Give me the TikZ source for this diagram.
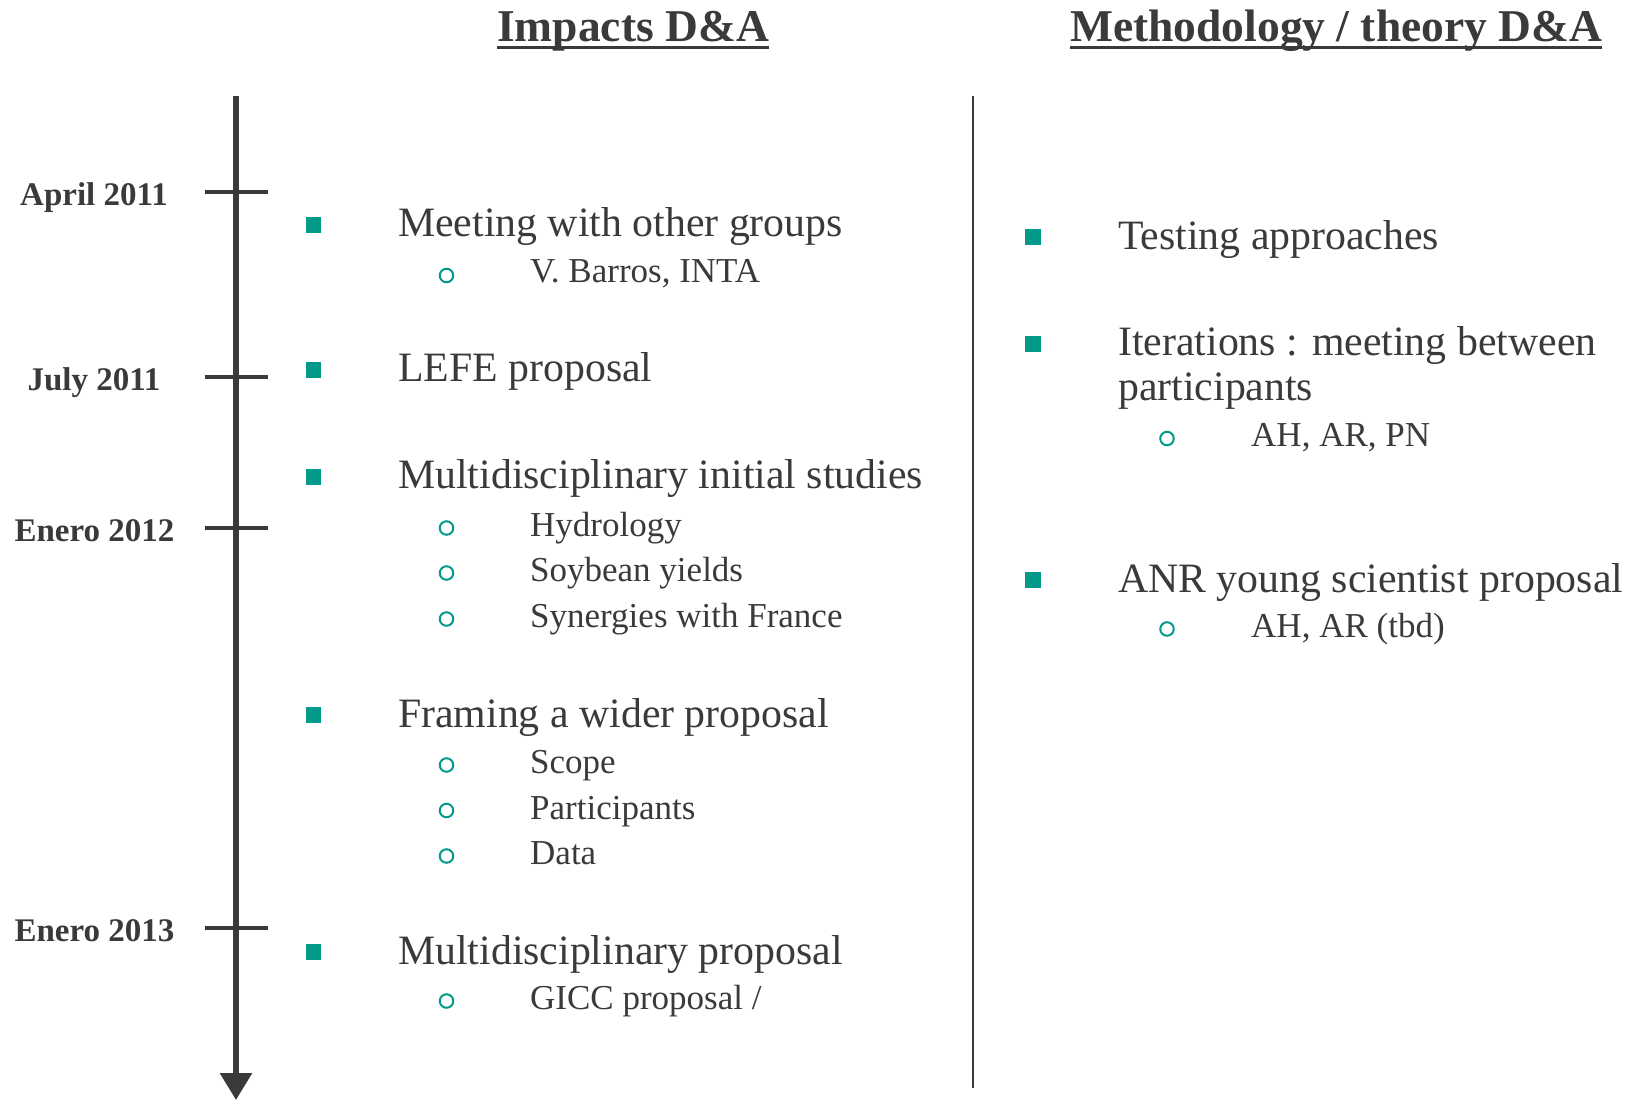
\documentclass[tikz,border=0pt]{standalone}
\usepackage{fontspec}
\setmainfont{Liberation Serif}
\usetikzlibrary{arrows.meta}
\definecolor{txt}{HTML}{3A3A3A}
\definecolor{tealb}{HTML}{00998A}
\begin{document}
\begin{tikzpicture}[x=1pt,y=-1pt,
  sq/.style={fill=tealb,draw=none,minimum size=15.5pt,inner sep=0pt,outer sep=0pt},
  ci/.style={circle,draw=tealb,line width=2pt,minimum size=13.5pt,inner sep=0pt},
  mainitem/.style={anchor=base west,inner sep=0pt,text=txt,font=\fontsize{41.8}{45}\selectfont},
  subitem/.style={anchor=base west,inner sep=0pt,text=txt,font=\fontsize{35}{40}\selectfont},
  datelbl/.style={anchor=base,inner sep=0pt,text=txt,font=\fontsize{33}{36}\selectfont\bfseries},
  titlelbl/.style={anchor=base west,inner sep=0pt,text=txt,font=\fontsize{45.5}{50}\selectfont\bfseries},
  uline/.style={draw=txt,line width=3pt},
  axisline/.style={draw=txt,line width=6pt,-{Triangle[width=31pt,length=27pt]}},
  tickline/.style={draw=txt,line width=4.5pt},
  sepline/.style={draw=txt,line width=2pt}
]
\useasboundingbox (0,0) rectangle (1625,1100);

% titles
\node[titlelbl] (t1) at (497,41) {Impacts D\&A};
\node[titlelbl] (t2) at (1070,41) {Methodology / theory D\&A};
\draw[uline] ([yshift=-6pt]t1.base west) -- ([yshift=-6pt]t1.base east);
\draw[uline] ([yshift=-6pt]t2.base west) -- ([yshift=-6pt]t2.base east);

% timeline
\coordinate (axtop) at (236,96);
\coordinate (axbot) at (236,1100);
\draw[axisline] (axtop) -- (axbot);
\foreach \y/\n in {192/a,377/b,528/c,928/d}{
  \coordinate (tk\n l) at (205,\y);
  \coordinate (tk\n r) at (268,\y);
  \draw[tickline] (tk\n l) -- (tk\n r);
}
\node[datelbl] (d1) at (94,205) {April 2011};
\node[datelbl] (d2) at (94,390) {July 2011};
\node[datelbl] (d3) at (94.5,541) {Enero 2012};
\node[datelbl] (d4) at (94.5,941) {Enero 2013};

% separator
\coordinate (sepa) at (973,96);
\coordinate (sepb) at (973,1088);
\draw[sepline] (sepa) -- (sepb);

% left column
\node[sq] (b1) at (313.5,225) {};
\node[mainitem] (m1) at (398,236) {Meeting with other groups};
\node[ci] (c1) at (446.5,275.5) {};
\node[subitem] (s1) at (530,282) {V. Barros, INTA};

\node[sq] (b2) at (313.5,370) {};
\node[mainitem] (m2) at (398,381) {LEFE proposal};

\node[sq] (b3) at (313.5,477) {};
\node[mainitem] (m3) at (398,488) {Multidisciplinary initial studies};
\node[ci] (c31) at (446.5,528) {};
\node[subitem] (s31) at (530,536) {Hydrology};
\node[ci] (c32) at (446.5,573) {};
\node[subitem] (s32) at (530,581.5) {Soybean yields};
\node[ci] (c33) at (446.5,619) {};
\node[subitem] (s33) at (530,627) {Synergies with France};

\node[sq] (b4) at (313.5,715) {};
\node[mainitem] (m4) at (398,727) {Framing a wider proposal};
\node[ci] (c41) at (446.5,765) {};
\node[subitem] (s41) at (530,773) {Scope};
\node[ci] (c42) at (446.5,810.5) {};
\node[subitem] (s42) at (530,819) {Participants};
\node[ci] (c43) at (446.5,856) {};
\node[subitem] (s43) at (530,864.5) {Data};

\node[sq] (b5) at (313.5,952) {};
\node[mainitem] (m5) at (398,964) {Multidisciplinary proposal};
\node[ci] (c5) at (446.5,1001) {};
\node[subitem] (s5) at (530,1009) {GICC proposal /};

% right column
\node[sq] (r1) at (1033,237) {};
\node[mainitem] (rm1) at (1118,249) {Testing approaches};

\node[sq] (r2) at (1033,344) {};
\node[mainitem] (rm2) at (1118,355) {Iterations : meeting between};
\node[mainitem] (rm2b) at (1118,400) {participants};
\node[ci] (rc2) at (1167,438.5) {};
\node[subitem] (rs2) at (1251,446) {AH, AR, PN};

\node[sq] (r3) at (1033,580) {};
\node[mainitem] (rm3) at (1118,592) {ANR young scientist proposal};
\node[ci] (rc3) at (1167,629) {};
\node[subitem] (rs3) at (1251,637) {AH, AR (tbd)};
\end{tikzpicture}
\end{document}
